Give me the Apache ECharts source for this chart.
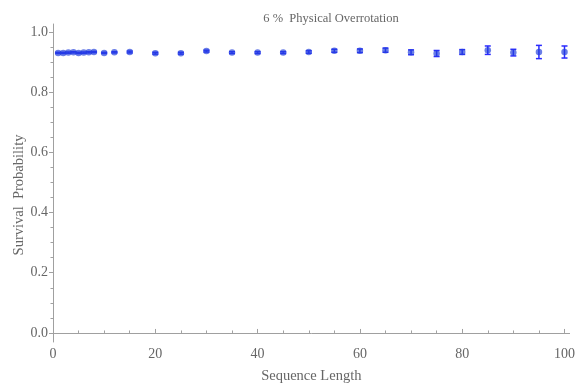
<!DOCTYPE html>
<html><head><meta charset="utf-8">
<script src="https://cdn.jsdelivr.net/npm/echarts@6/dist/echarts.min.js"></script>
<style>html,body{margin:0;padding:0;background:#fff}#c{width:578px;height:389px}</style>
</head><body><div id="c"></div>
<script>
var seqLength = [1,2,3,4,5,6,7,8,10,12,15,20,25,30,35,40,45,50,55,60,65,70,75,80,85,90,95,100];
var survival  = [0.930,0.930,0.931,0.932,0.930,0.931,0.932,0.933,0.930,0.932,0.933,0.929,0.929,0.936,0.931,0.931,0.931,0.933,0.937,0.937,0.939,0.932,0.928,0.933,0.939,0.931,0.933,0.933];
var errBar    = [0.002,0.002,0.002,0.002,0.002,0.002,0.002,0.002,0.002,0.002,0.003,0.003,0.003,0.003,0.003,0.003,0.003,0.004,0.005,0.006,0.007,0.008,0.010,0.008,0.014,0.011,0.022,0.020];
var xTickLabels = [0,20,40,60,80,100];
var yTickLabels = [0.0,0.2,0.4,0.6,0.8,1.0];
var xMinorTicks = [5,10,15,25,30,35,45,50,55,65,70,75,85,90,95];
var yMinorTicks = [0.05,0.1,0.15,0.25,0.3,0.35,0.45,0.5,0.55,0.65,0.7,0.75,0.85,0.9,0.95];

var pts = seqLength.map(function(x,i){return [x, survival[i]];});
var bars = seqLength.map(function(x,i){return [x, survival[i]-errBar[i], survival[i]+errBar[i]];});
var font = "'Liberation Serif','DejaVu Serif',serif";
var grey = '#666';
var axisCol = '#a0a0a0';

var chart = echarts.init(document.getElementById('c'));
chart.setOption({
  animation:false,
  title:{text:'6 %  Physical Overrotation', left:326, top:7, textAlign:'center',
    textStyle:{fontFamily:font, fontSize:12.5, fontWeight:'normal', color:grey}},
  graphic:[{type:'text', x:19, y:195, rotation:Math.PI/2,
    style:{text:'Survival  Probability', fontFamily:font, fontSize:14.5, fill:grey,
      textAlign:'center', textVerticalAlign:'middle'}}],
  grid:{left:53, right:4, top:24, bottom:42},
  xAxis:[{
    type:'value', min:0, max:101, position:'bottom',
    axisLine:{lineStyle:{color:axisCol}},
    axisTick:{inside:true, length:4, lineStyle:{color:axisCol}, customValues:xTickLabels},
    axisLabel:{customValues:xTickLabels, fontFamily:font, fontSize:14, color:grey, margin:5},
    splitLine:{show:false},
    name:'Sequence Length', nameLocation:'middle', nameGap:27,
    nameTextStyle:{fontFamily:font, fontSize:14.5, color:grey}
  },{
    type:'value', min:0, max:101, position:'bottom',
    axisLine:{show:false},
    axisTick:{inside:true, length:2.5, lineStyle:{color:axisCol}, customValues:xMinorTicks},
    axisLabel:{show:false}, splitLine:{show:false}
  }],
  yAxis:[{
    type:'value', min:-0.03, max:1.026, position:'left',
    axisLine:{show:true, onZero:false, lineStyle:{color:axisCol}},
    axisTick:{show:true, length:4, lineStyle:{color:axisCol}, customValues:yTickLabels},
    axisLabel:{customValues:yTickLabels, fontFamily:font, fontSize:14, color:grey, margin:5,
      formatter:function(v){return v.toFixed(1);}},
    splitLine:{show:false}
  },{
    type:'value', min:-0.03, max:1.026, position:'left',
    axisLine:{show:false},
    axisTick:{show:true, length:2.5, lineStyle:{color:axisCol}, customValues:yMinorTicks},
    axisLabel:{show:false}, splitLine:{show:false}
  }],
  series:[{
    type:'custom', xAxisIndex:0, yAxisIndex:0, data:bars, z:2,
    renderItem:function(params, api){
      var x = api.value(0);
      var lo = api.coord([x, api.value(1)]);
      var hi = api.coord([x, api.value(2)]);
      var w = 3;
      var st = {stroke:'#2a2aff', lineWidth:1.5};
      return {type:'group', children:[
        {type:'line', shape:{x1:lo[0],y1:lo[1],x2:hi[0],y2:hi[1]}, style:st},
        {type:'line', shape:{x1:lo[0]-w,y1:lo[1],x2:lo[0]+w,y2:lo[1]}, style:st},
        {type:'line', shape:{x1:hi[0]-w,y1:hi[1],x2:hi[0]+w,y2:hi[1]}, style:st}
      ]};
    }
  },{
    type:'scatter', xAxisIndex:0, yAxisIndex:0, data:pts, symbol:'circle', symbolSize:6.5, z:3,
    itemStyle:{color:'rgba(35,65,220,0.85)'}
  }]
});
</script></body></html>
